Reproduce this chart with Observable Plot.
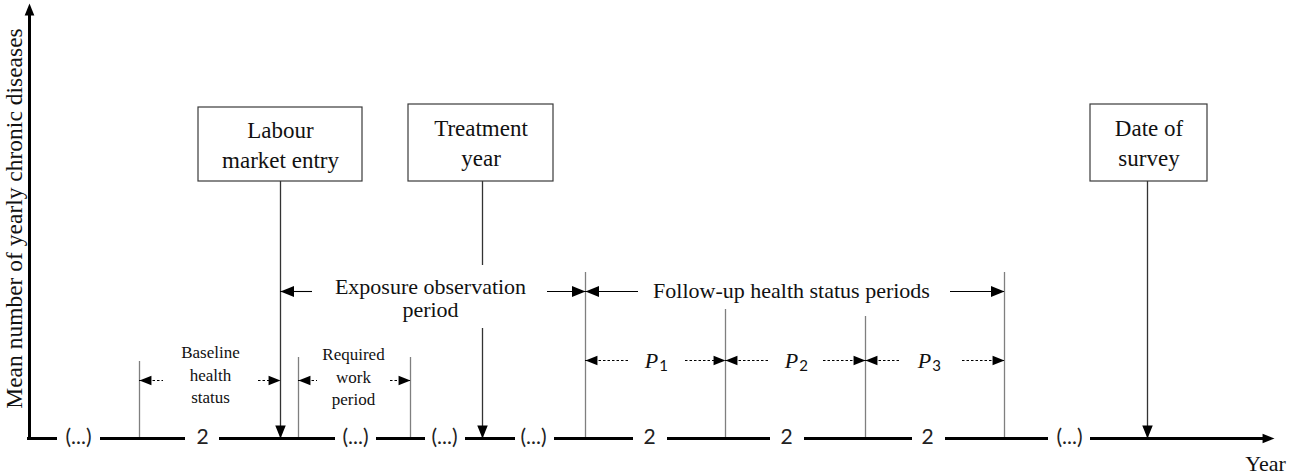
<!DOCTYPE html>
<html>
<head>
<meta charset="utf-8">
<script src="https://cdn.jsdelivr.net/npm/d3@7"></script>
<script src="https://cdn.jsdelivr.net/npm/@observablehq/plot@0.6"></script>
<style>
  html, body { margin: 0; padding: 0; background: #fff; }
  svg { display: block; }
</style>
</head>
<body>
<div id="chart"></div>
<script>
// ---- Diagram data (timeline positions along the year axis, heights above it) ----
const baseY = 438;
const axisLabelY = "Mean number of yearly chronic diseases";
const axisLabelX = "Year";

// pieces of the (broken) time axis and the labels in the gaps
const axisSegments = [[27, 57], [100, 185], [219, 335], [376, 425], [465, 515], [554, 633], [667, 770], [804, 912], [945, 1048], [1090, 1265]];
const gapLabels = ["(...)", "2", "(...)", "(...)", "(...)", "2", "2", "2", "(...)"];
const gapPositions = [78, 202, 355, 444, 533, 649, 786, 927, 1069];

// events shown in boxes with an arrow down to the axis
const eventLabels = ["Labour\nmarket entry", "Treatment\nyear", "Date of\nsurvey"];
const eventX = [280, 482, 1147];
const eventBoxLeft = [198, 408, 1090];
const eventBoxRight = [362, 553, 1207];
const eventBoxTop = [107, 104, 104];
const eventBoxBottom = 181;
// the arrow from "Treatment year" is interrupted by the exposure label
const eventLinePieces = [[280, 181, 438], [482, 181, 265], [482, 328, 438], [1147, 181, 438]];

// period boundaries (thin grey verticals)
const boundaryX = [139, 298, 410, 585, 725, 865, 1004];
const boundaryTop = [361, 357, 357, 272, 309, 316, 272];

// spans: start, end, line height, inner ends of arrow shafts, label
const spanLabels = ["Exposure observation\nperiod", "Follow-up health status periods", "Baseline\nhealth\nstatus", "Required\nwork\nperiod", "P", "P", "P"];
const spanSub = ["", "", "", "", "1", "2", "3"];
const spanStart = [280, 585, 139, 298, 585, 725, 865];
const spanEnd = [585, 1004, 280, 410, 725, 865, 1004];
const spanY = [291, 291, 380, 380, 360, 360, 360];
const spanInnerLeft = [312, 638, 163, 317, 630, 770, 900];
const spanInnerRight = [547, 950, 258, 390, 685, 823, 962];
const spanTextX = [430, 791, 210, 353, 651, 791, 924];
const spanTextY = [298, 290, 373, 375, 360, 360, 360];
const spanDashed = [false, false, true, true, true, true, true];

// ---- build tables ----
const segs = axisSegments.map(([a, b]) => ({a, b}));
const gaps = gapLabels.map((t, i) => ({t, x: gapPositions[i]}));
const boxes = eventLabels.map((t, i) => ({t, x: eventX[i], x1: eventBoxLeft[i], x2: eventBoxRight[i], y1: eventBoxTop[i], y2: eventBoxBottom}));
const evLines = eventLinePieces.map(([x, y1, y2]) => ({x, y1, y2}));
const bounds = boundaryX.map((x, i) => ({x, y1: boundaryTop[i], y2: baseY}));
const spans = spanLabels.map((t, i) => ({
  t, sub: spanSub[i], x1: spanStart[i], x2: spanEnd[i], y: spanY[i],
  l: spanInnerLeft[i], r: spanInnerRight[i], tx: spanTextX[i], ty: spanTextY[i], dashed: spanDashed[i]
}));
const shafts = spans.flatMap(s => [{a: s.x1, b: s.l, y: s.y, dashed: s.dashed}, {a: s.r, b: s.x2, y: s.y, dashed: s.dashed}]);
const spanHeads = spans.flatMap(s => [{x: s.x1, y: s.y, rot: 270, small: s.dashed}, {x: s.x2, y: s.y, rot: 90, small: s.dashed}]);
const downHeads = [280, 482, 1147].map(x => ({x, y: baseY, rot: 180}));
const axisHeads = [{x: 29, y: 3, rot: 0}, {x: 1274, y: baseY, rot: 90}];

// arrowhead symbol: tip at the origin, pointing up
const arrowHead = {
  draw(ctx, size) {
    const r = Math.sqrt(size / Math.PI);
    const L = 2.6 * r, w = 1.05 * r;
    ctx.moveTo(0, 0);
    ctx.lineTo(w, L);
    ctx.lineTo(-w, L);
    ctx.closePath();
  }
};

const serif = "'Liberation Serif', 'Times New Roman', serif";
const sans = "Lato, 'Open Sans', sans-serif";
const W = 1293, H = 475;

const chart = Plot.plot({
  width: W, height: H, margin: 0,
  x: {domain: [0, W], range: [0, W], axis: null},
  y: {domain: [0, H], range: [0, H], axis: null},
  style: {background: "#fff"},
  marks: [
    // grey period boundaries
    Plot.ruleX(bounds, {x: "x", y1: "y1", y2: "y2", stroke: "#7f7f7f", strokeWidth: 1.3}),
    // event arrows
    Plot.ruleX(evLines, {x: "x", y1: "y1", y2: "y2", stroke: "#333", strokeWidth: 1.3}),
    // span shafts
    Plot.ruleY(shafts.filter(d => !d.dashed), {y: "y", x1: "a", x2: "b", stroke: "#000", strokeWidth: 1.1}),
    Plot.ruleY(shafts.filter(d => d.dashed), {y: "y", x1: "a", x2: "b", stroke: "#000", strokeWidth: 1, strokeDasharray: "2.5,2"}),
    // axes
    Plot.ruleX([0], {x: () => 29, y1: () => 8, y2: () => baseY + 1.5, stroke: "#000", strokeWidth: 3}),
    Plot.ruleY(segs, {y: () => baseY, x1: "a", x2: "b", stroke: "#000", strokeWidth: 3}),
    // event boxes
    Plot.rect(boxes, {x1: "x1", x2: "x2", y1: "y1", y2: "y2", fill: "#fff", stroke: "#3a3a3a", strokeWidth: 1.2}),
    Plot.text(boxes, {x: d => (d.x1 + d.x2) / 2, y: d => (d.y1 + d.y2) / 2 - 1.5, text: "t", fontSize: 23, fontFamily: serif, lineHeight: 1.32, fill: "#111"}),
    // span labels
    Plot.text(spans.slice(0, 2), {x: "tx", y: "ty", text: "t", fontSize: 22, fontFamily: serif, lineHeight: 1.05, fill: "#111"}),
    Plot.text(spans.slice(2, 4), {x: "tx", y: "ty", text: "t", fontSize: 17, fontFamily: serif, lineHeight: 1.3, fill: "#111"}),
    Plot.text(spans.slice(4), {x: "tx", y: "ty", text: "t", fontSize: 22, fontFamily: serif, fontStyle: "italic", fill: "#111"}),
    Plot.text(spans.slice(4), {x: d => d.tx + 12, y: d => d.ty + 6, text: "sub", fontSize: 15, fontFamily: sans, fill: "#111"}),
    // gap labels on the time axis
    Plot.text(gaps, {x: "x", y: () => baseY - 1, text: "t", fontSize: 21, fontFamily: sans, fill: "#222"}),
    // arrowheads
    Plot.dot(spanHeads.filter(d => !d.small), {x: "x", y: "y", rotate: "rot", symbol: arrowHead, r: 5.2, fill: "#000", stroke: "none"}),
    Plot.dot(spanHeads.filter(d => d.small), {x: "x", y: "y", rotate: "rot", symbol: arrowHead, r: 4.6, fill: "#000", stroke: "none"}),
    Plot.dot(downHeads, {x: "x", y: "y", rotate: "rot", symbol: arrowHead, r: 5, fill: "#000", stroke: "none"}),
    Plot.dot(axisHeads, {x: "x", y: "y", rotate: "rot", symbol: arrowHead, r: 4.6, fill: "#000", stroke: "none"}),
    // axis titles
    Plot.text([axisLabelY], {x: () => 14, y: () => 218, text: d => d, rotate: -90, fontSize: 23.5, fontFamily: serif, fill: "#111"}),
    Plot.text([axisLabelX], {x: () => 1265, y: () => 463, text: d => d, fontSize: 22, fontFamily: serif, fill: "#111"})
  ]
});
document.getElementById("chart").appendChild(chart);
</script>
</body>
</html>
